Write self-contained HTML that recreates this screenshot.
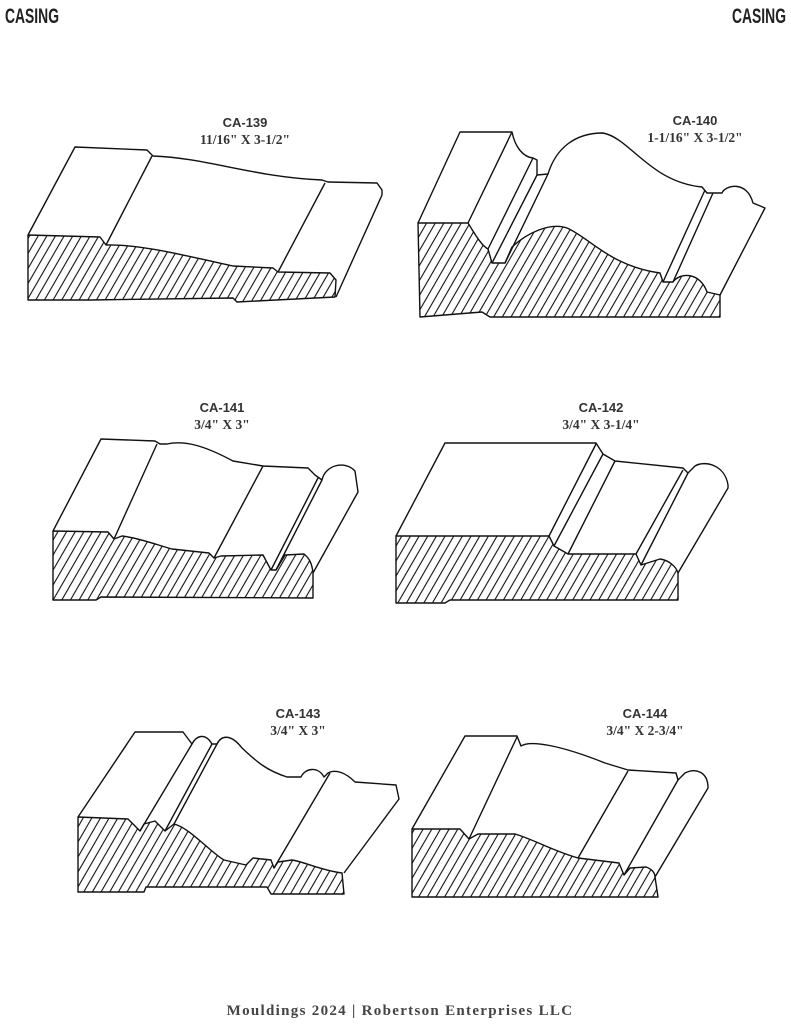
<!DOCTYPE html>
<html><head><meta charset="utf-8"><style>
html,body{margin:0;padding:0;background:#fff;}
body{width:791px;height:1024px;position:relative;overflow:hidden;}
svg{position:absolute;left:0;top:0;}
</style></head><body>
<svg width="791" height="1024" viewBox="0 0 791 1024" xmlns="http://www.w3.org/2000/svg">
<defs>
<pattern id="h" patternUnits="userSpaceOnUse" width="7.5" height="20" patternTransform="rotate(30)">
<line x1="1" y1="0" x2="1" y2="20" stroke="#111" stroke-width="1.1"/>
</pattern>
</defs>
<g font-family="Liberation Sans, sans-serif" font-weight="bold" fill="#222">
<text x="5" y="23" font-size="21" textLength="54" lengthAdjust="spacingAndGlyphs">CASING</text>
<text x="732" y="23" font-size="21" textLength="54" lengthAdjust="spacingAndGlyphs">CASING</text>
</g>
<g text-anchor="middle" fill="#333" font-weight="bold">
<g font-family="Liberation Sans, sans-serif" font-size="13">
<text x="245" y="127">CA-139</text><text x="695" y="125">CA-140</text>
<text x="222" y="412">CA-141</text><text x="601" y="412">CA-142</text>
<text x="298" y="718">CA-143</text><text x="645" y="718">CA-144</text>
</g>
<g font-family="Liberation Serif, serif" font-size="13.5">
<text x="245" y="144">11/16" X 3-1/2"</text><text x="695" y="142">1-1/16" X 3-1/2"</text>
<text x="222" y="429">3/4" X 3"</text><text x="601" y="429">3/4" X 3-1/4"</text>
<text x="298" y="735">3/4" X 3"</text><text x="645" y="735">3/4" X 2-3/4"</text>
</g>
</g>
<g fill="none" stroke="#111" stroke-width="1.4" stroke-linejoin="round">
<path d="M28,235 L100,237 L106,245 C140,244 187,256 233,266 L273,268 L278,272 L330,273 L336,280 L335,297 L237,302 L233,298 L90,300 L28,300 Z" fill="url(#h)"/>
<path d="M28,235 L75,147 L147,150 L153,156 C207,158 253,177 322,180 L328,182 L377,183 L382,190 L382,195 L336,297"/>
<path d="M152,156 L106,245 M325,183 L278,272"/>
<path d="M418,223 L468,223 C476,236 482,246 488,249 L492,263 L505,263 L512,247 C527,233 550,222 567,228 C590,238 610,266 660,273 L663,282 L673,282 C680,272 700,272 707,292 L720,295 L720,317 L490,317 L482,312 L420,317 Z" fill="url(#h)"/>
<path d="M418,223 L460,132 L512,132 C515,147 523,157 533,158 L537,160 L537,175 L548,174 C556,148 575,133 603,133 C630,138 650,182 702,187 L707,193 L722,193 C725,185 747,180 753,203 L765,208 L720,295"/>
<path d="M468,223 L512,132 M533,158 L488,249 M537,175 L492,263 M548,174 L505,263 M705,190 L663,282 M713,193 L673,282"/>
<path d="M53,531 L108,532 L114,539 L122,536 C140,538 160,546 172,549 L209,553 L214,558 L221,556 L263,555 L271,570 L276,570 L285,555 L304,554 C309,558 312,563 313,573 L313,598 L101,597 L96,600 L53,600 Z" fill="url(#h)"/>
<path d="M53,531 L101,439 L155,441 L160,444 L167,444 C185,440 205,446 233,461 L263,466 L308,468 L315,475 L322,480 C325,465 345,460 355,471 L358,492 L313,573"/>
<path d="M157,444 L114,539 M263,466 L214,558 M318,478 L271,570 M322,480 L276,570"/>
<path d="M396,536 L549,536 L554,546 L568,554 L636,554 L641,565 L660,559 C668,560 676,566 678,573 L678,600 L450,600 L445,603 L396,603 Z" fill="url(#h)"/>
<path d="M396,536 L445,443 L596,443 L603,454 L615,461 L683,468 L688,473 L695,466 C705,460 725,465 728,485 L728,488 L678,573"/>
<path d="M596,444 L549,536 M603,454 L554,546 M615,461 L568,554 M683,470 L636,554 M688,473 L641,565"/>
<path d="M78,817 L128,819 L140,831 L144,824 L155,821 L165,831 L174,824 C190,828 210,852 224,860 L246,865 L253,858 L271,860 L274,868 L278,862 L292,860 C305,862 320,870 342,873 L344,894 L271,894 L267,887 L146,887 L144,892 L78,892 Z" fill="url(#h)"/>
<path d="M78,817 L135,732 L183,732 L192,744 C196,736 205,732 212,744 L217,744 C222,734 232,735 242,748 C255,760 265,770 287,777 L301,777 C305,768 318,766 324,777 L328,773 C335,769 345,772 355,782 L396,785 L399,799 L344,873"/>
<path d="M192,744 L140,831 M212,744 L165,831 M217,744 L174,824 M330,773 L274,868"/>
<path d="M412,829 L460,829 L469,839 L478,834 L515,834 C535,840 551,850 578,858 L619,863 L624,875 L630,868 L646,867 C652,869 655,873 655,877 L658,897 L419,897 L412,897 Z" fill="url(#h)"/>
<path d="M412,829 L465,736 L517,736 L521,746 C530,740 560,745 605,763 L628,770 L676,773 L678,780 L685,773 C695,768 708,771 708,788 L655,877"/>
<path d="M517,737 L469,839 M628,771 L578,858 M678,780 L624,875"/>
</g>
<text x="400" y="1015" text-anchor="middle" font-family="Liberation Serif, serif" font-weight="bold" font-size="15" letter-spacing="1.3" fill="#444">Mouldings 2024 | Robertson Enterprises LLC</text>
</svg>
</body></html>
